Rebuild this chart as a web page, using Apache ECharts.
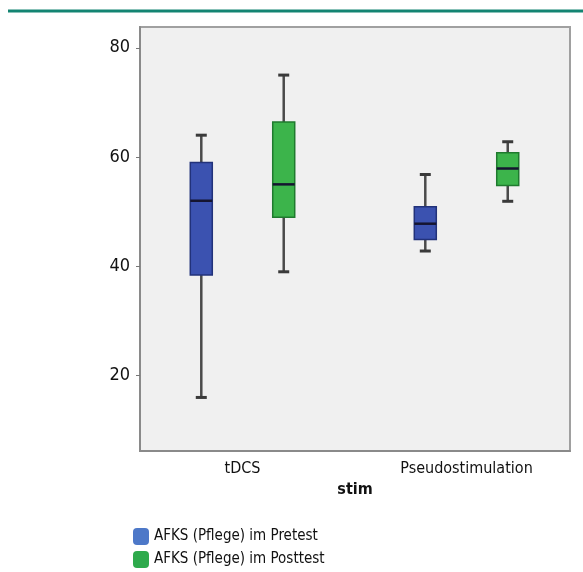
<!DOCTYPE html>
<html>
<head>
<meta charset="utf-8">
<style>html,body{margin:0;padding:0;background:#fff;}#c{width:583px;height:572px;}</style>
<script src="https://cdn.jsdelivr.net/npm/echarts@6/dist/echarts.min.js"></script>
</head>
<body>
<div id="c"></div>
<script>
// ---- data ----
const categories = ['tDCS', 'Pseudostimulation'];
const seriesNames = ['AFKS (Pflege) im Pretest', 'AFKS (Pflege) im Posttest'];
// [min, Q1, median, Q3, max] per category
const pretest  = [[16, 38.4, 52, 59, 64], [42.8, 44.9, 47.8, 50.9, 56.8]];
const posttest = [[39, 49, 55, 66.4, 75], [51.9, 54.8, 57.9, 60.8, 62.8]];
const yTicks = [20, 40, 60, 80];

// ---- style / layout ----
const FONT = "'Liberation Sans Narrow', 'DejaVu Sans Condensed', sans-serif";
const GROUP_OFFSET = 0.184; // offset of each box from category centre (in category units)
const BOX_W = 22;
const CAP_W = 11;
const fills = ['#3b52b0', '#3cb44b'];
const borders = ['#22327a', '#1f7a2e'];
const legendColors = ['#4d78c8', '#2eaa4c'];

function buildData(arr, sIdx) {
  const off = sIdx === 0 ? -GROUP_OFFSET : GROUP_OFFSET;
  return arr.map((v, i) => [i + 1 + off].concat(v));
}

function makeRender(sIdx) {
  return function (params, api) {
    const x = api.value(0);
    const lo = api.coord([x, api.value(1)]);
    const q1 = api.coord([x, api.value(2)]);
    const md = api.coord([x, api.value(3)]);
    const q3 = api.coord([x, api.value(4)]);
    const hi = api.coord([x, api.value(5)]);
    const cx = lo[0];
    const wStyle = { stroke: '#4a4a4a', lineWidth: 2.5 };
    const capStyle = { stroke: '#3a3a3a', lineWidth: 3 };
    return {
      type: 'group',
      children: [
        { type: 'line', shape: { x1: cx, y1: hi[1], x2: cx, y2: q3[1] }, style: wStyle },
        { type: 'line', shape: { x1: cx, y1: q1[1], x2: cx, y2: lo[1] }, style: wStyle },
        { type: 'line', shape: { x1: cx - CAP_W / 2, y1: hi[1], x2: cx + CAP_W / 2, y2: hi[1] }, style: capStyle },
        { type: 'line', shape: { x1: cx - CAP_W / 2, y1: lo[1], x2: cx + CAP_W / 2, y2: lo[1] }, style: capStyle },
        { type: 'rect', shape: { x: cx - BOX_W / 2, y: q3[1], width: BOX_W, height: q1[1] - q3[1] },
          style: { fill: fills[sIdx], stroke: borders[sIdx], lineWidth: 1.5 } },
        { type: 'line', shape: { x1: cx - BOX_W / 2, y1: md[1], x2: cx + BOX_W / 2, y2: md[1] },
          style: { stroke: '#151530', lineWidth: 2.5 } }
      ]
    };
  };
}

const legendTops = [528, 551];
const chart = echarts.init(document.getElementById('c'), null, { renderer: 'canvas' });
chart.setOption({
  animation: false,
  backgroundColor: '#ffffff',
  textStyle: { fontFamily: FONT },
  graphic: [{
    type: 'line', shape: { x1: 8, y1: 11, x2: 583, y2: 11 },
    style: { stroke: '#138472', lineWidth: 3 }, z: 10
  }],
  grid: {
    left: 140, right: 13, top: 27, bottom: 121,
    show: true, backgroundColor: '#f0f0f0', borderColor: '#a0a0a0', borderWidth: 2
  },
  legend: seriesNames.map((n, i) => ({
    left: 133, top: legendTops[i], padding: 0,
    itemWidth: 16, itemHeight: 17, icon: 'roundRect', itemGap: 5,
    textStyle: { fontFamily: FONT, fontSize: 15, color: '#111' },
    data: [{ name: n, itemStyle: { color: legendColors[i] } }]
  })),
  xAxis: {
    type: 'value', min: 0.5424, max: 2.462,
    splitLine: { show: false },
    axisLine: { show: true, onZero: false, lineStyle: { color: '#8a8a8a', width: 2 } },
    axisTick: { show: false },
    axisLabel: {
      customValues: [1, 2], margin: 10,
      formatter: v => categories[Math.round(v) - 1] || '',
      fontFamily: FONT, fontSize: 16, color: '#111'
    },
    name: 'stim', nameLocation: 'middle', nameGap: 31,
    nameTextStyle: { fontFamily: FONT, fontSize: 16, fontWeight: 'bold', color: '#111' }
  },
  yAxis: {
    type: 'value', min: 6.2, max: 83.8,
    splitLine: { show: false },
    axisLine: { show: true, onZero: false, lineStyle: { color: '#8a8a8a', width: 2 } },
    axisTick: { show: true, customValues: yTicks, length: 4, lineStyle: { color: '#777' } },
    axisLabel: {
      customValues: yTicks, margin: 10,
      fontFamily: FONT, fontSize: 18, color: '#111'
    }
  },
  series: [
    { name: seriesNames[0], type: 'custom', renderItem: makeRender(0),
      itemStyle: { color: legendColors[0] },
      encode: { x: 0, y: [1, 2, 3, 4, 5] }, data: buildData(pretest, 0) },
    { name: seriesNames[1], type: 'custom', renderItem: makeRender(1),
      itemStyle: { color: legendColors[1] },
      encode: { x: 0, y: [1, 2, 3, 4, 5] }, data: buildData(posttest, 1) }
  ]
});
</script>
</body>
</html>
